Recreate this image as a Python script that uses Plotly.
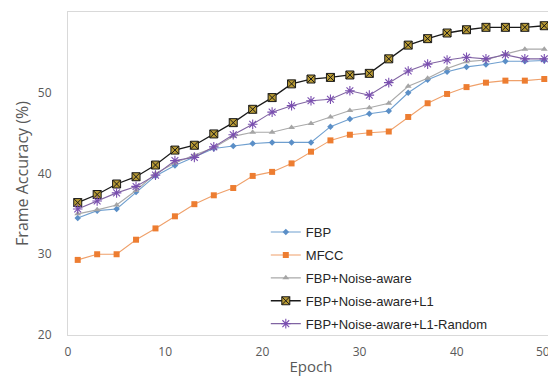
import plotly.graph_objects as go

epochs = [1, 3, 5, 7, 9, 11, 13, 15, 17, 19, 21, 23, 25, 27, 29, 31, 33, 35, 37, 39, 41, 43, 45, 47, 49]

fbp = [34.5, 35.4, 35.6, 37.7, 39.7, 41.0, 42.1, 43.1, 43.4, 43.7, 43.85, 43.85, 43.85, 45.8, 46.75, 47.4, 47.75,
       50.0, 51.6, 52.6, 53.2, 53.5, 53.9, 53.9, 54.0]
mfcc = [29.3, 30.0, 30.0, 31.8, 33.2, 34.7, 36.2, 37.3, 38.2, 39.7, 40.2, 41.25, 42.7, 44.1, 44.8, 45.05, 45.2,
        47.0, 48.7, 49.85, 50.7, 51.25, 51.5, 51.5, 51.7]
noise = [35.0, 35.5, 36.1, 37.9, 40.0, 41.3, 42.3, 43.2, 44.6, 45.1, 45.1, 45.7, 46.2, 47.0, 47.8, 48.15, 48.7,
         50.8, 51.8, 53.0, 53.85, 54.05, 54.8, 55.4, 55.4]
noise_l1 = [36.4, 37.4, 38.7, 39.6, 41.05, 42.9, 43.5, 44.9, 46.3, 47.95, 49.4, 51.1, 51.7, 51.9, 52.2, 52.4, 54.2,
            55.9, 56.7, 57.4, 57.8, 58.1, 58.1, 58.1, 58.3]
noise_l1_rand = [35.6, 36.6, 37.6, 38.4, 39.8, 41.6, 42.0, 43.3, 44.8, 46.1, 47.6, 48.4, 49.0, 49.2, 50.25, 49.7,
                 51.25, 52.7, 53.55, 54.05, 54.4, 54.2, 54.7, 54.2, 54.2]

names = ["FBP", "MFCC", "FBP+Noise-aware", "FBP+Noise-aware+L1", "FBP+Noise-aware+L1-Random"]
x_ticks = [0, 10, 20, 30, 40]
last_x_tick = "50"
y_ticks = [20, 30, 40, 50, 60]

fig = go.Figure()

fig.add_trace(go.Scatter(
    x=epochs, y=fbp, name=names[0], mode="lines+markers", legendgroup="a",
    line=dict(color="#6f9fcf", width=1.1),
    marker=dict(symbol="diamond", size=5, color="#5b8fc7")))
fig.add_trace(go.Scatter(
    x=epochs, y=mfcc, name=names[1], mode="lines+markers", legendgroup="b",
    line=dict(color="#efa06a", width=1.1),
    marker=dict(symbol="square", size=6, color="#ed7d31")))
fig.add_trace(go.Scatter(
    x=epochs, y=noise, name=names[2], mode="lines+markers", legendgroup="c",
    line=dict(color="#a9a9a9", width=1.1),
    marker=dict(symbol="triangle-up", size=6, color="#a5a5a5")))
fig.add_trace(go.Scatter(
    x=epochs, y=noise_l1, name=names[3], mode="lines+markers", legendgroup="d",
    line=dict(color="#1a1a1a", width=1.3),
    marker=dict(symbol="square-x", size=8, color="#b89a34", line=dict(color="#1a1a1a", width=1))))
fig.add_trace(go.Scatter(
    x=epochs, y=noise_l1_rand, name=names[4], mode="lines+markers", legendgroup="e",
    line=dict(color="#8064a2", width=1.1),
    marker=dict(symbol="asterisk-open", size=8, color="#7a4fb0", line=dict(color="#7a4fb0", width=1.1))))

# The page body has an 8px default margin, so the figure is sized and offset to compensate.
fig.update_layout(
    width=548, height=368,
    margin=dict(l=60, r=2, t=4, b=41),
    paper_bgcolor="white", plot_bgcolor="white",
    font=dict(family="Open Sans, sans-serif", color="#595959", size=12),
    xaxis=dict(
        range=[0, 50], tickvals=x_ticks, ticktext=[str(v) for v in x_ticks],
        showgrid=False, zeroline=False, showline=True, linecolor="#d9d9d9", linewidth=1, mirror=True,
        ticks="", ticklabelstandoff=6,
        tickfont=dict(size=12, color="#595959"),
        title=dict(text="Epoch", font=dict(size=15, color="#595959"), standoff=3)),
    yaxis=dict(
        range=[20, 60], tickvals=y_ticks,
        showgrid=False, zeroline=False, showline=True, linecolor="#d9d9d9", linewidth=1, mirror=False,
        ticks="", ticklabelstandoff=13,
        tickfont=dict(size=12, color="#595959"),
        title=dict(text="Frame Accuracy (%)", font=dict(size=16, color="#595959"), standoff=5)),
    legend=dict(
        x=0.407, y=0.365, xanchor="left", yanchor="top",
        bgcolor="rgba(0,0,0,0)", tracegroupgap=3,
        font=dict(family="Liberation Sans, Arial, sans-serif", size=13, color="#262626")),
    showlegend=True,
)

fig.add_annotation(
    x=1, y=0, xref="paper", yref="paper", text=last_x_tick, showarrow=False,
    xanchor="right", yanchor="top", xshift=-2, yshift=-6, font=dict(size=12, color="#595959"))

fig.write_html("out.html")
